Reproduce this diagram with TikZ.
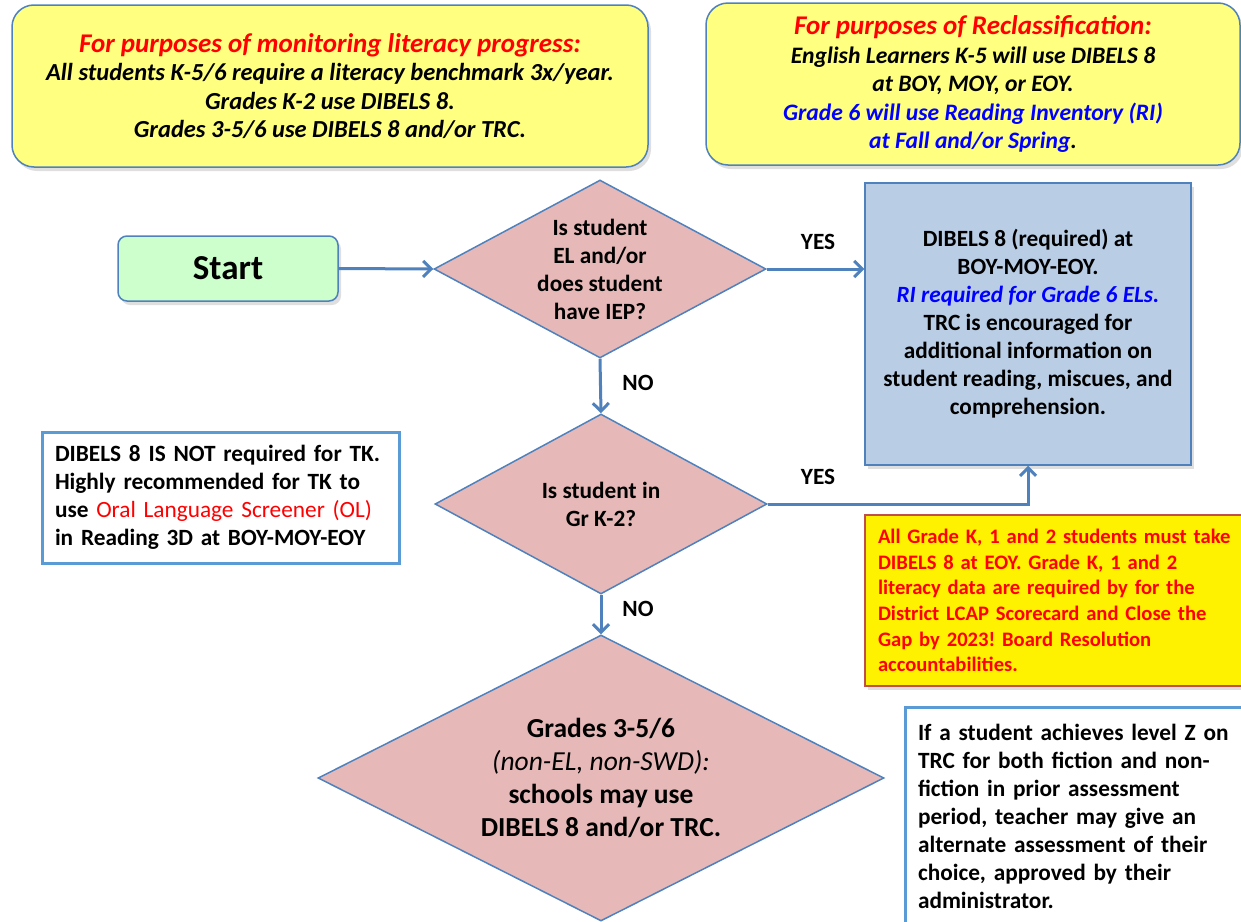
\documentclass[tikz,border=0pt]{standalone}
\usepackage{fontspec}
\setmainfont{Carlito}
\usetikzlibrary{shapes.geometric,arrows.meta,shadows}
\definecolor{lineblue}{HTML}{4F81BD}
\definecolor{frameblue}{HTML}{5B9BD5}
\definecolor{noteyellow}{HTML}{FFFF80}
\definecolor{pinkfill}{HTML}{E6B9B8}
\definecolor{startgreen}{HTML}{CCFFCC}
\definecolor{infoblue}{HTML}{B9CDE5}
\definecolor{brickred}{HTML}{C0504D}
\frenchspacing
\def\txt{\fontsize{23.3}{28}\selectfont\bfseries}
\def\headtxt{\fontsize{27}{28.5}\selectfont}
\tikzset{
  shade/.style={drop shadow={shadow xshift=3pt,shadow yshift=-4pt,opacity=0.25}},
  notebox/.style={draw=lineblue,line width=1.5pt,fill=noteyellow,rounded corners=22pt,shade,
    align=center,inner sep=0pt},
  decision/.style={diamond,draw=lineblue,line width=1.5pt,fill=pinkfill,align=center,
    inner sep=0pt,font=\txt},
  framed/.style={draw=frameblue,line width=3pt,fill=white,align=left,inner xsep=13pt,
    font=\txt},
  flow/.style={draw=lineblue,line width=3pt,-{Straight Barb[length=8pt,width=16pt,line width=3pt]}},
  answer/.style={font=\txt}
}
\begin{document}
\begin{tikzpicture}[x=1pt,y=-1pt]
  \useasboundingbox (0,0) rectangle (1241,921);
  %%%%% notes at the top %%%%%
  \node[notebox,minimum width=636pt,minimum height=162pt,
    font=\fontsize{24.5}{28.5}\selectfont\bfseries\itshape] (monitor) at (330,86)
    {{\headtxt\color{red}For purposes of monitoring literacy progress:}\\
     All students K-5/6 require a literacy benchmark 3x/year.\\
     Grades K-2 use DIBELS 8.\\
     Grades 3-5/6 use DIBELS 8 and/or TRC.};
  \node[notebox,minimum width=534pt,minimum height=162pt,
    font=\fontsize{23.6}{28.5}\selectfont\bfseries\itshape] (reclass) at (973,84)
    {{\headtxt\color{red}For purposes of Reclassification:}\\
     English Learners K-5 will use DIBELS 8\\
     at BOY, MOY, or EOY.\\
     {\color{blue}Grade 6 will use Reading Inventory (RI)}\\
     {\color{blue}at Fall and/or Spring}.};

  %%%%% flow %%%%%
  \node[draw=lineblue,line width=1.5pt,fill=startgreen,rounded corners=9pt,shade,
    minimum width=220pt,minimum height=65pt,font=\fontsize{35}{40}\selectfont\bfseries] (start) at (228,268.5) {Start};
  \node[decision,aspect=1.86,minimum width=332pt,minimum height=178pt] (elq) at (600,269)
    {Is student\\ EL and/or\\ does student\\ have IEP?};
  \node[draw=lineblue,line width=1.5pt,fill=infoblue,shade,align=center,font=\txt,
    minimum width=326pt,minimum height=282pt] (req) at (1028,324)
    {DIBELS 8 (required) at\\ BOY-MOY-EOY.\\ {\color{blue}\itshape RI required for Grade 6 ELs.}\\
     TRC is encouraged for\\ additional information on\\ student reading, miscues, and\\ comprehension.};
  \node[decision,aspect=1.84,minimum width=332pt,minimum height=180pt] (kq) at (601,504)
    {Is student in\\ Gr K-2?};
  \node[decision,aspect=1.98,minimum width=566pt,minimum height=286pt,
    font=\fontsize{27.5}{33}\selectfont\bfseries] (upper) at (601,778)
    {Grades 3-5/6\\ {\mdseries\itshape (non-EL, non-SWD):}\\ schools may use\\ DIBELS 8 and/or TRC.};

  \draw[flow] (start.east) -- (elq.west);
  \draw[flow] (elq.east) -- (elq.east -| req.west);
  \draw[flow] (elq.south) -- (kq.north);
  \draw[flow] (kq.east) -| (req.south);
  \draw[flow] (kq.south) -- (upper.north);
  \node[answer] (yesa) at (818,242) {YES};
  \node[answer] (yesb) at (818,477) {YES};
  \node[answer] (noa) at (638,383) {NO};
  \node[answer] (nob) at (638,609) {NO};

  %%%%% side notes %%%%%
  \node[framed,text width=331pt,minimum height=131pt] (tk) at (220.5,497.5)
    {DIBELS 8 IS NOT required for TK.\\ Highly recommended for TK to\\
     use {\color{red}\mdseries Oral Language Screener (OL)}\\ in Reading 3D at BOY-MOY-EOY};
  \node[draw=brickred,line width=1.5pt,fill=yellow,shade,align=left,text width=380pt,
    inner xsep=13pt,minimum height=171pt,text=red,font=\fontsize{20.6}{25.6}\selectfont\bfseries] (kgrades) at (1068,600.5)
    {All Grade K, 1 and 2 students must take\\ DIBELS 8 at EOY. Grade K, 1 and 2\\
     literacy data are required by for the\\ District LCAP Scorecard and Close the\\
     Gap by 2023! Board Resolution\\ accountabilities.};
  \node[framed,text width=322pt,minimum height=218pt] (levelz) at (1079,816)
    {If a student achieves level Z on\\ TRC for both fiction and non-\\
     fiction in prior assessment\\ period, teacher may give an\\
     alternate assessment of their\\ choice, approved by their\\ administrator.};
\end{tikzpicture}
\end{document}
